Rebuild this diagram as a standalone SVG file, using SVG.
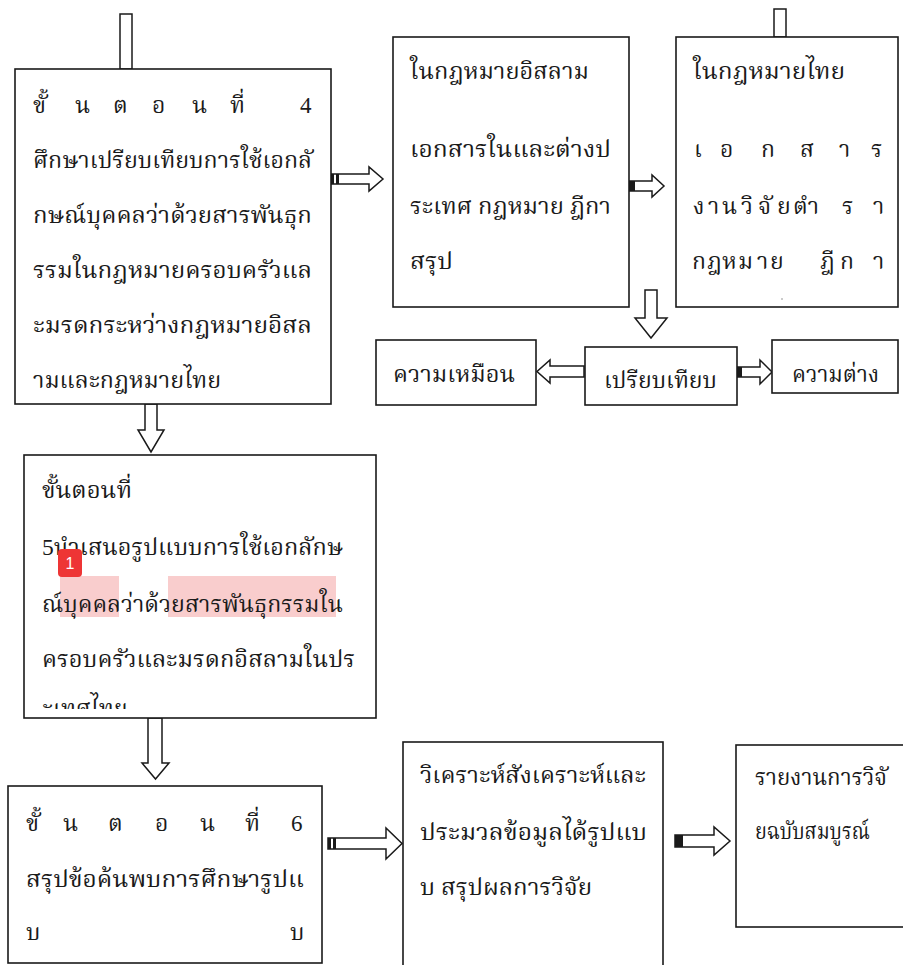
<svg xmlns="http://www.w3.org/2000/svg" width="903" height="965" viewBox="0 0 903 965">
<defs>
<style>
.box{fill:#fff;stroke:#1a1a1a;stroke-width:1.6}
.arr{fill:#fff;stroke:#1a1a1a;stroke-width:1.5;stroke-linejoin:miter}
.dk{fill:#1a1a1a}
.t{font-family:"Liberation Serif","Noto Serif Thai","Noto Sans Thai",serif;font-size:23px;fill:#1a1a1a}
.hl{fill:#f8c4c4;opacity:0.85}
</style>
<clipPath id="clip5"><rect x="25" y="456" width="350" height="253"/></clipPath>
</defs>
<rect width="903" height="965" fill="#fff"/>

<g id="connectors">
<rect class="arr" x="120" y="14" width="12" height="55"/>
<rect class="arr" x="774" y="9" width="12" height="28"/>
<polygon class="arr" points="331,174 369,174 369,167 383,179 369,191 369,184 331,184"/>
<rect class="dk" x="331" y="174" width="3" height="10"/><rect class="dk" x="336" y="174" width="3" height="10"/>
<polygon class="arr" points="629,181 652,181 652,175 664,186 652,197 652,191 629,191"/>
<rect class="dk" x="629" y="181" width="6" height="10"/>
<polygon class="arr" points="645,290 657,290 657,318 667,318 651,338 635,318 645,318"/>
<polygon class="arr" points="584,366 550,366 550,360 537,371.5 550,383 550,377 584,377"/>
<polygon class="arr" points="737,367 760,367 760,360 772,372 760,384 760,377 737,377"/>
<rect class="dk" x="737" y="367" width="5" height="10"/>
<polygon class="arr" points="145,404 157,404 157,430 164,430 151,452 138,430 145,430"/>
<polygon class="arr" points="148,718 162,718 162,763 169,763 155.5,779 142,763 148,763"/>
<polygon class="arr" points="328,838 386,838 386,828 402,843.5 386,859 386,849 328,849"/>
<rect class="dk" x="328" y="838" width="3" height="11"/><rect class="dk" x="333" y="838" width="3" height="11"/>
<polygon class="arr" points="675,835 714,835 714,827 730,841 714,855 714,847 675,847"/>
<rect class="dk" x="675" y="835" width="8" height="12"/>
</g>

<g id="step4">
<rect class="box" x="15" y="69" width="316" height="335"/>
<text class="t" y="113"><tspan x="33">ขั้</tspan><tspan x="75">น</tspan><tspan x="113">ต</tspan><tspan x="152">อ</tspan><tspan x="192">น</tspan><tspan x="230">ที่ </tspan><tspan x="300">4</tspan></text>
<text class="t" x="33" y="168" textLength="279" lengthAdjust="spacingAndGlyphs">ศึกษาเปรียบเทียบการใช้เอกลั</text>
<text class="t" x="33" y="223" textLength="279" lengthAdjust="spacingAndGlyphs">กษณ์บุคคลว่าด้วยสารพันธุก</text>
<text class="t" x="33" y="278" textLength="279" lengthAdjust="spacingAndGlyphs">รรมในกฎหมายครอบครัวแล</text>
<text class="t" x="33" y="333" textLength="279" lengthAdjust="spacingAndGlyphs">ะมรดกระหว่างกฎหมายอิสล</text>
<text class="t" x="33" y="388" textLength="188" lengthAdjust="spacingAndGlyphs">ามและกฎหมายไทย</text>
</g>

<g id="islamic-law">
<rect class="box" x="393" y="37" width="236" height="270"/>
<text class="t" x="410" y="79" textLength="179" lengthAdjust="spacingAndGlyphs">ในกฎหมายอิสลาม</text>
<text class="t" x="410" y="157" textLength="201" lengthAdjust="spacingAndGlyphs">เอกสารในและต่างป</text>
<text class="t" x="410" y="214" textLength="201" lengthAdjust="spacingAndGlyphs">ระเทศ กฎหมาย ฎีกา</text>
<text class="t" x="410" y="269" textLength="43" lengthAdjust="spacingAndGlyphs">สรุป</text>
</g>

<g id="thai-law">
<rect class="box" x="676" y="37" width="222" height="270"/>
<text class="t" x="693" y="79" textLength="152" lengthAdjust="spacingAndGlyphs">ในกฎหมายไทย</text>
<text class="t" y="157"><tspan x="694">เ</tspan><tspan x="720">อ</tspan><tspan x="761">ก</tspan><tspan x="800">ส</tspan><tspan x="839">า</tspan><tspan x="871">ร</tspan></text>
<text class="t" y="214"><tspan x="693">ง</tspan><tspan x="708">า</tspan><tspan x="722">น</tspan><tspan x="741">วิ</tspan><tspan x="758">จั</tspan><tspan x="777">ย</tspan><tspan x="793">ตำ</tspan><tspan x="842">ร</tspan><tspan x="873">า</tspan></text>
<text class="t" y="269"><tspan x="692">ก</tspan><tspan x="707">ฎ</tspan><tspan x="722">ห</tspan><tspan x="738">ม</tspan><tspan x="757">า</tspan><tspan x="770">ย </tspan><tspan x="820">ฎี</tspan><tspan x="840">ก</tspan><tspan x="873">า</tspan></text>
<circle cx="782" cy="299" r="0.8" fill="#888"/>
</g>

<g id="similarity">
<rect class="box" x="376" y="340" width="160" height="65"/>
<text class="t" x="393" y="382" textLength="122" lengthAdjust="spacingAndGlyphs">ความเหมือน</text>
</g>

<g id="compare">
<rect class="box" x="585" y="347" width="152" height="58"/>
<text class="t" x="604" y="388" textLength="113" lengthAdjust="spacingAndGlyphs">เปรียบเทียบ</text>
</g>

<g id="difference">
<rect class="box" x="772" y="340" width="126" height="53"/>
<text class="t" x="792" y="382" textLength="87" lengthAdjust="spacingAndGlyphs">ความต่าง</text>
</g>

<g id="step5">
<rect class="box" x="24" y="455" width="352" height="263"/>
<rect class="hl" x="60" y="576" width="59" height="41"/>
<rect class="hl" x="168" y="576" width="168" height="41"/>
<text class="t" x="42" y="498" textLength="90" lengthAdjust="spacingAndGlyphs">ขั้นตอนที่</text>
<text class="t" x="42" y="555" textLength="301" lengthAdjust="spacingAndGlyphs">5นำเสนอรูปแบบการใช้เอกลักษ</text>
<text class="t" x="42" y="612" textLength="301" lengthAdjust="spacingAndGlyphs">ณ์บุคคลว่าด้วยสารพันธุกรรมใน</text>
<text class="t" x="42" y="667" textLength="313" lengthAdjust="spacingAndGlyphs">ครอบครัวและมรดกอิสลามในปร</text>
<text class="t" x="42" y="716" clip-path="url(#clip5)">ะเทศไทย</text>
<rect x="58" y="549" width="24" height="28" rx="4" fill="#ee3535"/>
<text x="70" y="569" text-anchor="middle" style="font-family:'Liberation Sans',sans-serif;font-size:16px;fill:#fff">1</text>
</g>

<g id="step6">
<rect class="box" x="8" y="786" width="314" height="177"/>
<text class="t" y="831"><tspan x="26">ขั้</tspan><tspan x="63">น</tspan><tspan x="108">ต</tspan><tspan x="155">อ</tspan><tspan x="200">น</tspan><tspan x="245">ที่ </tspan><tspan x="291">6</tspan></text>
<text class="t" x="26" y="887" textLength="278" lengthAdjust="spacingAndGlyphs">สรุปข้อค้นพบการศึกษารูปแ</text>
<text class="t" y="940"><tspan x="26">บ</tspan><tspan x="290">บ</tspan></text>
</g>

<g id="analysis">
<rect class="box" x="403" y="742" width="260" height="240"/>
<text class="t" x="420" y="783" textLength="226" lengthAdjust="spacingAndGlyphs">วิเคราะห์สังเคราะห์และ</text>
<text class="t" x="420" y="840" textLength="227" lengthAdjust="spacingAndGlyphs">ประมวลข้อมูลได้รูปแบ</text>
<text class="t" x="420" y="895" textLength="172" lengthAdjust="spacingAndGlyphs">บ สรุปผลการวิจัย</text>
</g>

<g id="report">
<rect class="box" x="736" y="745" width="180" height="182"/>
<text class="t" x="755" y="785" textLength="132" lengthAdjust="spacingAndGlyphs">รายงานการวิจั</text>
<text class="t" x="755" y="839" textLength="115" lengthAdjust="spacingAndGlyphs">ยฉบับสมบูรณ์</text>
</g>
</svg>
